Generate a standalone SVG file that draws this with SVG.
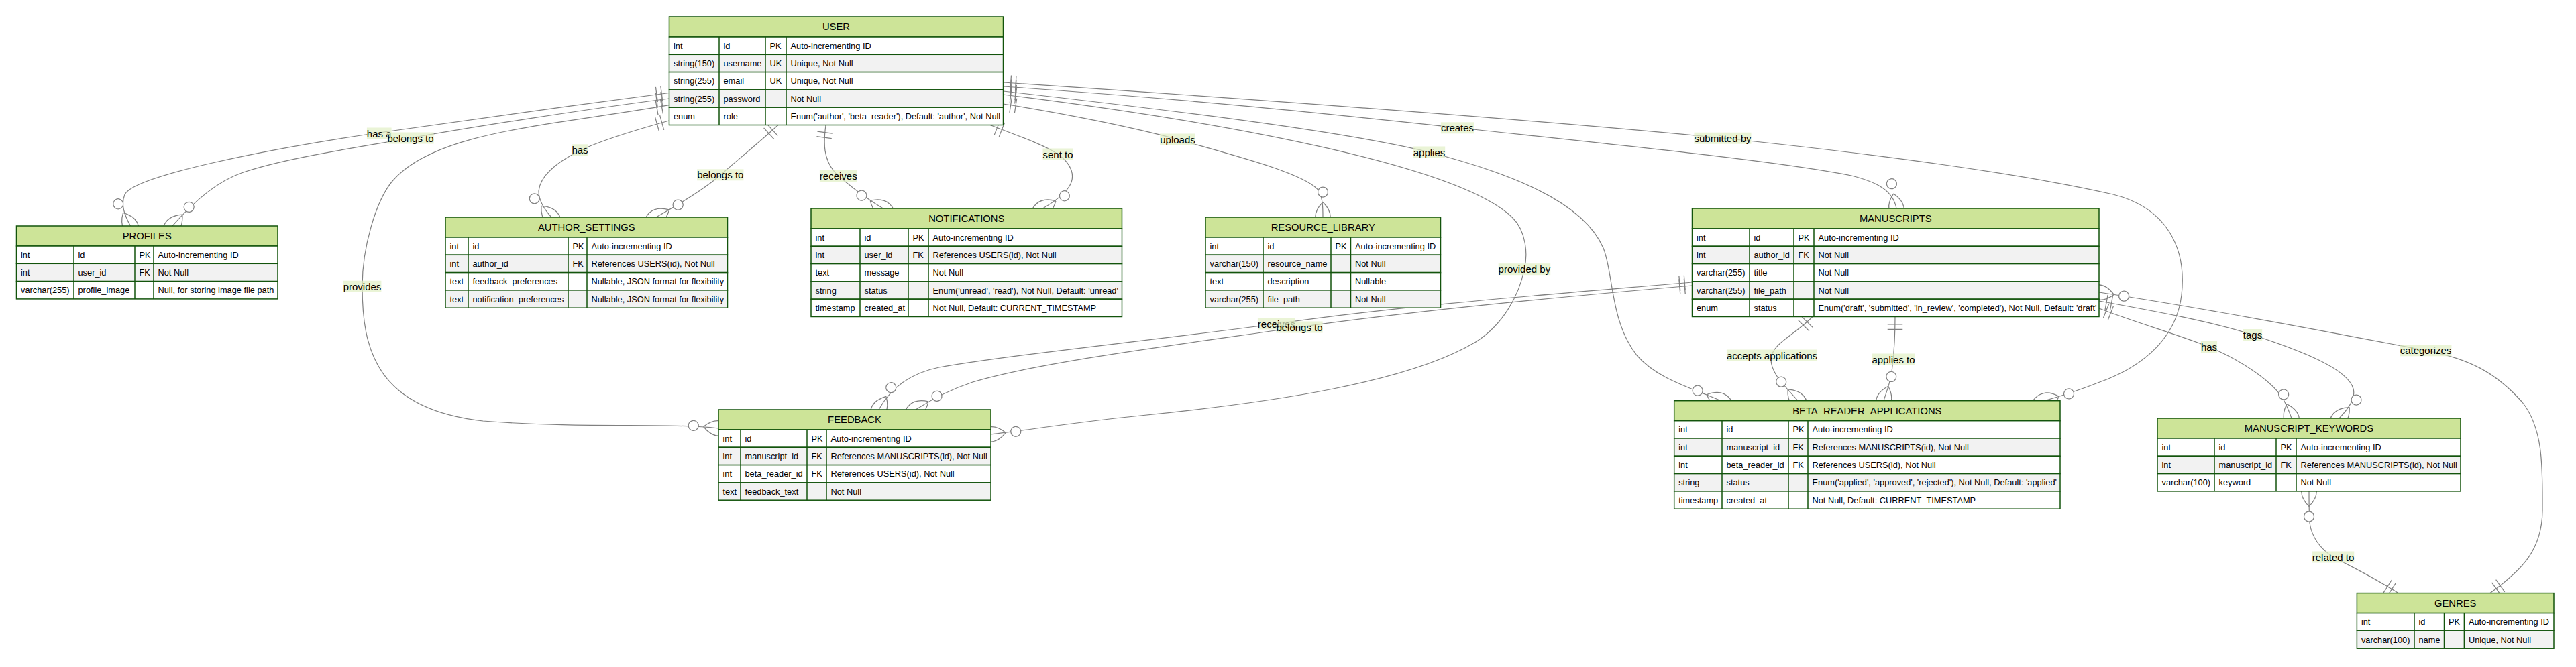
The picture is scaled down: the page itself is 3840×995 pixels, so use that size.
<svg xmlns="http://www.w3.org/2000/svg" width="3840" height="995" viewBox="0 0 3840 995">
<style>
.rel{fill:none;stroke:#808080;stroke-width:1.2}
.lb{fill:#e1efc4;fill-opacity:0.7}
.lt{font-family:"Liberation Sans",Arial,sans-serif;font-size:15px;fill:#000;text-anchor:middle;dominant-baseline:central}
.hd{fill:#cde498;stroke:#13540c;stroke-width:1.5}
.ro{fill:#ffffff;stroke:#13540c;stroke-width:1.5}
.re{fill:#f2f2f2;stroke:#13540c;stroke-width:1.5}
.sep{fill:none;stroke:#13540c;stroke-width:1.5}
.ht{font-family:"Liberation Sans",Arial,sans-serif;font-size:14.8px;fill:#000;text-anchor:middle;dominant-baseline:central}
.at{font-family:"Liberation Sans",Arial,sans-serif;font-size:12.8px;fill:#000;dominant-baseline:central}
</style>
<defs>
<marker id="oneStart" markerUnits="userSpaceOnUse" viewBox="0 0 18 18" refX="0" refY="9" markerWidth="22.5" markerHeight="22.5" orient="auto" overflow="visible">
<path d="M9,0 L9,18 M15,0 L15,18" fill="none" stroke="#808080" stroke-width="1"/>
</marker>
<marker id="manyEnd" markerUnits="userSpaceOnUse" viewBox="0 0 57 36" refX="39" refY="18" markerWidth="71.25" markerHeight="45" orient="auto" overflow="visible">
<circle cx="9" cy="18" r="6" fill="#ffffff" stroke="#808080" stroke-width="1"/>
<path d="M21,18 Q39,0 57,18 Q39,36 21,18" fill="none" stroke="#808080" stroke-width="1"/>
</marker>
</defs>
<rect x="0" y="0" width="3840" height="995" fill="#ffffff"/>

<g id="connectors">
<g marker-start="url(#oneStart)" marker-end="url(#manyEnd)">
<path class="rel" d="M997.5,138.5 C850,158 650,185 565,198 C400,222 200,262 186,290 C180,305 185,320 194.5,337"/>
<path class="rel" d="M997.5,147 C880,162 700,190 612,206 C520,222 420,237 360,258 C320,272 285,305 257,337"/>
<path class="rel" d="M997.5,156.7 C820,188 650,195 585,270 C560,300 540,370 540,427 C540,520 560,610 720,628 C880,640 990,630 1071,639"/>
<path class="rel" d="M997.5,180 C940,196 890,212 864,225 C830,242 805,262 803,285 C803,300 812,313 822,324"/>
<path class="rel" d="M1160,186.5 C1130,214 1100,238 1074,261 C1050,282 1010,306 978,324"/>
<path class="rel" d="M1231,186.5 C1228,210 1225,240 1250,262.5 C1268,278 1290,295 1316.5,311"/>
<path class="rel" d="M1476,186.5 C1510,200 1555,215 1577,230 C1597,244 1604,262 1594,278 C1585,292 1570,302 1554.4,311"/>
<path class="rel" d="M1495.5,155 C1580,168 1690,190 1755.5,208 C1840,232 1950,260 1966,285 C1972,297 1972,310 1972,324"/>
<path class="rel" d="M1495.5,136 C1750,165 2000,195 2130.5,227 C2250,258 2360,300 2390,370 C2405,405 2400,480 2440,530 C2470,565 2520,578 2565,597.7"/>
<path class="rel" d="M1495.5,141 C1850,185 2180,250 2255,325 C2275,345 2278,380 2272,402 C2265,440 2240,485 2200,510 C2100,570 1900,600 1700,620 C1600,630 1530,642 1477,648"/>
<path class="rel" d="M1495.5,129 C1800,150 2000,172 2172.5,190.5 C2400,215 2650,240 2760,262 C2800,272 2822,285 2827,311"/>
<path class="rel" d="M1495.5,123 C1900,150 2300,180 2568,206 C2800,230 3020,260 3150,290 C3230,310 3260,370 3252,440 C3245,500 3200,545 3130,570 C3100,582 3075,590 3048,597.7"/>
<path class="rel" d="M2522.5,421 C2300,440 2100,455 1903,483 C1700,510 1500,530 1400,548 C1360,556 1330,575 1310,611"/>
<path class="rel" d="M2522.5,426 C2300,445 2100,465 1937,488 C1750,515 1550,540 1450,570 C1420,580 1390,595 1365,611"/>
<path class="rel" d="M2702,472.5 C2675,500 2642,512 2640,535 C2639,556 2660,575 2680,597.7"/>
<path class="rel" d="M2825,472.5 C2825,510 2822,540 2820,555 C2818,570 2812,585 2808,597.7"/>
<path class="rel" d="M3129,460 C3180,480 3250,500 3293,517.5 C3340,537 3390,570 3405,598 C3409,606 3413,615 3416,624"/>
<path class="rel" d="M3129,449 C3200,462 3300,480 3358,499.5 C3430,523 3500,550 3508,580 C3512,595 3500,610 3487,624"/>
<path class="rel" d="M3712,884.6 C3760,850 3790,820 3790,760 C3790,700 3792,640 3760,600 C3720,555 3680,535 3616,522.8 C3480,497 3300,462 3129,436"/>
<path class="rel" d="M3575,884.6 C3540,862 3495,840 3478,831 C3458,818 3446,800 3443,780 C3442,765 3442,750 3442,733"/>
</g>
<g id="labels">
<rect class="lb" x="546.9" y="190.5" width="36.7" height="17"/><text class="lt" x="565.2" y="199">has a</text>
<rect class="lb" x="577.4" y="197.5" width="69.2" height="17"/><text class="lt" x="612" y="206">belongs to</text>
<rect class="lb" x="852.4" y="215.3" width="24.2" height="17"/><text class="lt" x="864.5" y="223.8">has</text>
<rect class="lb" x="1039.2" y="252.3" width="69.2" height="17"/><text class="lt" x="1073.8" y="260.8">belongs to</text>
<rect class="lb" x="1221.9" y="254" width="55.8" height="17"/><text class="lt" x="1249.8" y="262.5">receives</text>
<rect class="lb" x="1554.5" y="221.5" width="45" height="17"/><text class="lt" x="1577" y="230">sent to</text>
<rect class="lb" x="1729.2" y="199.5" width="52.5" height="17"/><text class="lt" x="1755.5" y="208">uploads</text>
<rect class="lb" x="2106.7" y="218.5" width="47.5" height="17"/><text class="lt" x="2130.5" y="227">applies</text>
<rect class="lb" x="2147.9" y="182.3" width="49.2" height="17"/><text class="lt" x="2172.5" y="190.8">creates</text>
<rect class="lb" x="2525.5" y="197.7" width="85" height="17"/><text class="lt" x="2568" y="206.2">submitted by</text>
<rect class="lb" x="511.7" y="418.7" width="56.7" height="17"/><text class="lt" x="540" y="427.2">provides</text>
<rect class="lb" x="2233.7" y="393.2" width="77.5" height="17"/><text class="lt" x="2272.4" y="401.7">provided by</text>
<rect class="lb" x="1874.9" y="474.5" width="55.8" height="17"/><text class="lt" x="1902.8" y="483">receives</text>
<rect class="lb" x="1902.4" y="479.5" width="69.2" height="17"/><text class="lt" x="1937" y="488">belongs to</text>
<rect class="lb" x="2573.9" y="521.5" width="135.1" height="17"/><text class="lt" x="2641.5" y="530">accepts applications</text>
<rect class="lb" x="2790.4" y="527.5" width="64.2" height="17"/><text class="lt" x="2822.5" y="536">applies to</text>
<rect class="lb" x="3280.9" y="509" width="24.2" height="17"/><text class="lt" x="3293" y="517.5">has</text>
<rect class="lb" x="3343.8" y="491" width="28.4" height="17"/><text class="lt" x="3358" y="499.5">tags</text>
<rect class="lb" x="3577.7" y="514.3" width="76.7" height="17"/><text class="lt" x="3616" y="522.8">categorizes</text>
<rect class="lb" x="3446.8" y="822.5" width="62.5" height="17"/><text class="lt" x="3478" y="831">related to</text>
</g>
</g>

<g id="USER">
<rect class="hd" x="997.5" y="25" width="498" height="30"/>
<text class="ht" x="1246.5" y="40">USER</text>
<rect class="ro" x="997.5" y="55" width="498" height="26.3"/>
<rect class="re" x="997.5" y="81.3" width="498" height="26.3"/>
<rect class="ro" x="997.5" y="107.6" width="498" height="26.3"/>
<rect class="re" x="997.5" y="133.9" width="498" height="26.3"/>
<rect class="ro" x="997.5" y="160.2" width="498" height="26.3"/>
<path class="sep" d="M1072,55V186.5M1141,55V186.5M1172,55V186.5"/>
<text class="at" x="1004" y="68.15">int</text><text class="at" x="1078.5" y="68.15">id</text><text class="at" x="1147.5" y="68.15">PK</text><text class="at" x="1178.5" y="68.15">Auto-incrementing ID</text>
<text class="at" x="1004" y="94.45">string(150)</text><text class="at" x="1078.5" y="94.45">username</text><text class="at" x="1147.5" y="94.45">UK</text><text class="at" x="1178.5" y="94.45">Unique, Not Null</text>
<text class="at" x="1004" y="120.75">string(255)</text><text class="at" x="1078.5" y="120.75">email</text><text class="at" x="1147.5" y="120.75">UK</text><text class="at" x="1178.5" y="120.75">Unique, Not Null</text>
<text class="at" x="1004" y="147.05">string(255)</text><text class="at" x="1078.5" y="147.05">password</text><text class="at" x="1178.5" y="147.05">Not Null</text>
<text class="at" x="1004" y="173.35">enum</text><text class="at" x="1078.5" y="173.35">role</text><text class="at" x="1178.5" y="173.35">Enum('author', 'beta_reader'), Default: 'author', Not Null</text>
</g>

<g id="PROFILES">
<rect class="hd" x="24.5" y="337" width="389.5" height="30"/>
<text class="ht" x="219.25" y="352">PROFILES</text>
<rect class="ro" x="24.5" y="367" width="389.5" height="26.3"/>
<rect class="re" x="24.5" y="393.3" width="389.5" height="26.3"/>
<rect class="ro" x="24.5" y="419.6" width="389.5" height="26.3"/>
<path class="sep" d="M110,367V445.9M201,367V445.9M229,367V445.9"/>
<text class="at" x="31" y="380.15">int</text><text class="at" x="116.5" y="380.15">id</text><text class="at" x="207.5" y="380.15">PK</text><text class="at" x="235.5" y="380.15">Auto-incrementing ID</text>
<text class="at" x="31" y="406.45">int</text><text class="at" x="116.5" y="406.45">user_id</text><text class="at" x="207.5" y="406.45">FK</text><text class="at" x="235.5" y="406.45">Not Null</text>
<text class="at" x="31" y="432.75">varchar(255)</text><text class="at" x="116.5" y="432.75">profile_image</text><text class="at" x="235.5" y="432.75">Null, for storing image file path</text>
</g>

<g id="AUTHOR_SETTINGS">
<rect class="hd" x="664" y="324" width="420.5" height="30"/>
<text class="ht" x="874.25" y="339">AUTHOR_SETTINGS</text>
<rect class="ro" x="664" y="354" width="420.5" height="26.3"/>
<rect class="re" x="664" y="380.3" width="420.5" height="26.3"/>
<rect class="ro" x="664" y="406.6" width="420.5" height="26.3"/>
<rect class="re" x="664" y="432.9" width="420.5" height="26.3"/>
<path class="sep" d="M698,354V459.2M847,354V459.2M875,354V459.2"/>
<text class="at" x="670.5" y="367.15">int</text><text class="at" x="704.5" y="367.15">id</text><text class="at" x="853.5" y="367.15">PK</text><text class="at" x="881.5" y="367.15">Auto-incrementing ID</text>
<text class="at" x="670.5" y="393.45">int</text><text class="at" x="704.5" y="393.45">author_id</text><text class="at" x="853.5" y="393.45">FK</text><text class="at" x="881.5" y="393.45">References USERS(id), Not Null</text>
<text class="at" x="670.5" y="419.75">text</text><text class="at" x="704.5" y="419.75">feedback_preferences</text><text class="at" x="881.5" y="419.75">Nullable, JSON format for flexibility</text>
<text class="at" x="670.5" y="446.05">text</text><text class="at" x="704.5" y="446.05">notification_preferences</text><text class="at" x="881.5" y="446.05">Nullable, JSON format for flexibility</text>
</g>

<g id="NOTIFICATIONS">
<rect class="hd" x="1209" y="311" width="463.5" height="30"/>
<text class="ht" x="1440.75" y="326">NOTIFICATIONS</text>
<rect class="ro" x="1209" y="341" width="463.5" height="26.3"/>
<rect class="re" x="1209" y="367.3" width="463.5" height="26.3"/>
<rect class="ro" x="1209" y="393.6" width="463.5" height="26.3"/>
<rect class="re" x="1209" y="419.9" width="463.5" height="26.3"/>
<rect class="ro" x="1209" y="446.2" width="463.5" height="26.3"/>
<path class="sep" d="M1282,341V472.5M1354,341V472.5M1384,341V472.5"/>
<text class="at" x="1215.5" y="354.15">int</text><text class="at" x="1288.5" y="354.15">id</text><text class="at" x="1360.5" y="354.15">PK</text><text class="at" x="1390.5" y="354.15">Auto-incrementing ID</text>
<text class="at" x="1215.5" y="380.45">int</text><text class="at" x="1288.5" y="380.45">user_id</text><text class="at" x="1360.5" y="380.45">FK</text><text class="at" x="1390.5" y="380.45">References USERS(id), Not Null</text>
<text class="at" x="1215.5" y="406.75">text</text><text class="at" x="1288.5" y="406.75">message</text><text class="at" x="1390.5" y="406.75">Not Null</text>
<text class="at" x="1215.5" y="433.05">string</text><text class="at" x="1288.5" y="433.05">status</text><text class="at" x="1390.5" y="433.05">Enum('unread', 'read'), Not Null, Default: 'unread'</text>
<text class="at" x="1215.5" y="459.35">timestamp</text><text class="at" x="1288.5" y="459.35">created_at</text><text class="at" x="1390.5" y="459.35">Not Null, Default: CURRENT_TIMESTAMP</text>
</g>

<g id="RESOURCE_LIBRARY">
<rect class="hd" x="1797" y="324" width="350.5" height="30"/>
<text class="ht" x="1972.25" y="339">RESOURCE_LIBRARY</text>
<rect class="ro" x="1797" y="354" width="350.5" height="26.3"/>
<rect class="re" x="1797" y="380.3" width="350.5" height="26.3"/>
<rect class="ro" x="1797" y="406.6" width="350.5" height="26.3"/>
<rect class="re" x="1797" y="432.9" width="350.5" height="26.3"/>
<path class="sep" d="M1883,354V459.2M1984,354V459.2M2013.5,354V459.2"/>
<text class="at" x="1803.5" y="367.15">int</text><text class="at" x="1889.5" y="367.15">id</text><text class="at" x="1990.5" y="367.15">PK</text><text class="at" x="2020" y="367.15">Auto-incrementing ID</text>
<text class="at" x="1803.5" y="393.45">varchar(150)</text><text class="at" x="1889.5" y="393.45">resource_name</text><text class="at" x="2020" y="393.45">Not Null</text>
<text class="at" x="1803.5" y="419.75">text</text><text class="at" x="1889.5" y="419.75">description</text><text class="at" x="2020" y="419.75">Nullable</text>
<text class="at" x="1803.5" y="446.05">varchar(255)</text><text class="at" x="1889.5" y="446.05">file_path</text><text class="at" x="2020" y="446.05">Not Null</text>
</g>

<g id="MANUSCRIPTS">
<rect class="hd" x="2522.5" y="311" width="606.5" height="30"/>
<text class="ht" x="2825.75" y="326">MANUSCRIPTS</text>
<rect class="ro" x="2522.5" y="341" width="606.5" height="26.3"/>
<rect class="re" x="2522.5" y="367.3" width="606.5" height="26.3"/>
<rect class="ro" x="2522.5" y="393.6" width="606.5" height="26.3"/>
<rect class="re" x="2522.5" y="419.9" width="606.5" height="26.3"/>
<rect class="ro" x="2522.5" y="446.2" width="606.5" height="26.3"/>
<path class="sep" d="M2608,341V472.5M2674,341V472.5M2704,341V472.5"/>
<text class="at" x="2529" y="354.15">int</text><text class="at" x="2614.5" y="354.15">id</text><text class="at" x="2680.5" y="354.15">PK</text><text class="at" x="2710.5" y="354.15">Auto-incrementing ID</text>
<text class="at" x="2529" y="380.45">int</text><text class="at" x="2614.5" y="380.45">author_id</text><text class="at" x="2680.5" y="380.45">FK</text><text class="at" x="2710.5" y="380.45">Not Null</text>
<text class="at" x="2529" y="406.75">varchar(255)</text><text class="at" x="2614.5" y="406.75">title</text><text class="at" x="2710.5" y="406.75">Not Null</text>
<text class="at" x="2529" y="433.05">varchar(255)</text><text class="at" x="2614.5" y="433.05">file_path</text><text class="at" x="2710.5" y="433.05">Not Null</text>
<text class="at" x="2529" y="459.35">enum</text><text class="at" x="2614.5" y="459.35">status</text><text class="at" x="2710.5" y="459.35">Enum('draft', 'submitted', 'in_review', 'completed'), Not Null, Default: 'draft'</text>
</g>

<g id="FEEDBACK">
<rect class="hd" x="1071" y="611" width="406" height="30"/>
<text class="ht" x="1274" y="626">FEEDBACK</text>
<rect class="ro" x="1071" y="641" width="406" height="26.3"/>
<rect class="re" x="1071" y="667.3" width="406" height="26.3"/>
<rect class="ro" x="1071" y="693.6" width="406" height="26.3"/>
<rect class="re" x="1071" y="719.9" width="406" height="26.3"/>
<path class="sep" d="M1104,641V746.2M1203,641V746.2M1232,641V746.2"/>
<text class="at" x="1077.5" y="654.15">int</text><text class="at" x="1110.5" y="654.15">id</text><text class="at" x="1209.5" y="654.15">PK</text><text class="at" x="1238.5" y="654.15">Auto-incrementing ID</text>
<text class="at" x="1077.5" y="680.45">int</text><text class="at" x="1110.5" y="680.45">manuscript_id</text><text class="at" x="1209.5" y="680.45">FK</text><text class="at" x="1238.5" y="680.45">References MANUSCRIPTS(id), Not Null</text>
<text class="at" x="1077.5" y="706.75">int</text><text class="at" x="1110.5" y="706.75">beta_reader_id</text><text class="at" x="1209.5" y="706.75">FK</text><text class="at" x="1238.5" y="706.75">References USERS(id), Not Null</text>
<text class="at" x="1077.5" y="733.05">text</text><text class="at" x="1110.5" y="733.05">feedback_text</text><text class="at" x="1238.5" y="733.05">Not Null</text>
</g>

<g id="BETA_READER_APPLICATIONS">
<rect class="hd" x="2495.7" y="597.7" width="575.3" height="30"/>
<text class="ht" x="2783.35" y="612.7">BETA_READER_APPLICATIONS</text>
<rect class="ro" x="2495.7" y="627.7" width="575.3" height="26.3"/>
<rect class="re" x="2495.7" y="654" width="575.3" height="26.3"/>
<rect class="ro" x="2495.7" y="680.3" width="575.3" height="26.3"/>
<rect class="re" x="2495.7" y="706.6" width="575.3" height="26.3"/>
<rect class="ro" x="2495.7" y="732.9" width="575.3" height="26.3"/>
<path class="sep" d="M2567,627.7V759.2M2666,627.7V759.2M2695,627.7V759.2"/>
<text class="at" x="2502.2" y="640.85">int</text><text class="at" x="2573.5" y="640.85">id</text><text class="at" x="2672.5" y="640.85">PK</text><text class="at" x="2701.5" y="640.85">Auto-incrementing ID</text>
<text class="at" x="2502.2" y="667.15">int</text><text class="at" x="2573.5" y="667.15">manuscript_id</text><text class="at" x="2672.5" y="667.15">FK</text><text class="at" x="2701.5" y="667.15">References MANUSCRIPTS(id), Not Null</text>
<text class="at" x="2502.2" y="693.45">int</text><text class="at" x="2573.5" y="693.45">beta_reader_id</text><text class="at" x="2672.5" y="693.45">FK</text><text class="at" x="2701.5" y="693.45">References USERS(id), Not Null</text>
<text class="at" x="2502.2" y="719.75">string</text><text class="at" x="2573.5" y="719.75">status</text><text class="at" x="2701.5" y="719.75">Enum('applied', 'approved', 'rejected'), Not Null, Default: 'applied'</text>
<text class="at" x="2502.2" y="746.05">timestamp</text><text class="at" x="2573.5" y="746.05">created_at</text><text class="at" x="2701.5" y="746.05">Not Null, Default: CURRENT_TIMESTAMP</text>
</g>

<g id="MANUSCRIPT_KEYWORDS">
<rect class="hd" x="3216" y="624" width="452" height="30"/>
<text class="ht" x="3442" y="639">MANUSCRIPT_KEYWORDS</text>
<rect class="ro" x="3216" y="654" width="452" height="26.3"/>
<rect class="re" x="3216" y="680.3" width="452" height="26.3"/>
<rect class="ro" x="3216" y="706.6" width="452" height="26.3"/>
<path class="sep" d="M3301,654V732.9M3393,654V732.9M3423,654V732.9"/>
<text class="at" x="3222.5" y="667.15">int</text><text class="at" x="3307.5" y="667.15">id</text><text class="at" x="3399.5" y="667.15">PK</text><text class="at" x="3429.5" y="667.15">Auto-incrementing ID</text>
<text class="at" x="3222.5" y="693.45">int</text><text class="at" x="3307.5" y="693.45">manuscript_id</text><text class="at" x="3399.5" y="693.45">FK</text><text class="at" x="3429.5" y="693.45">References MANUSCRIPTS(id), Not Null</text>
<text class="at" x="3222.5" y="719.75">varchar(100)</text><text class="at" x="3307.5" y="719.75">keyword</text><text class="at" x="3429.5" y="719.75">Not Null</text>
</g>

<g id="GENRES">
<rect class="hd" x="3513.4" y="884.6" width="293.6" height="30"/>
<text class="ht" x="3660.2" y="899.6">GENRES</text>
<rect class="ro" x="3513.4" y="914.6" width="293.6" height="26.3"/>
<rect class="re" x="3513.4" y="940.9" width="293.6" height="26.3"/>
<path class="sep" d="M3599,914.6V967.2M3643.5,914.6V967.2M3673.4,914.6V967.2"/>
<text class="at" x="3519.9" y="927.75">int</text><text class="at" x="3605.5" y="927.75">id</text><text class="at" x="3650" y="927.75">PK</text><text class="at" x="3679.9" y="927.75">Auto-incrementing ID</text>
<text class="at" x="3519.9" y="954.05">varchar(100)</text><text class="at" x="3605.5" y="954.05">name</text><text class="at" x="3679.9" y="954.05">Unique, Not Null</text>
</g>
</svg>
